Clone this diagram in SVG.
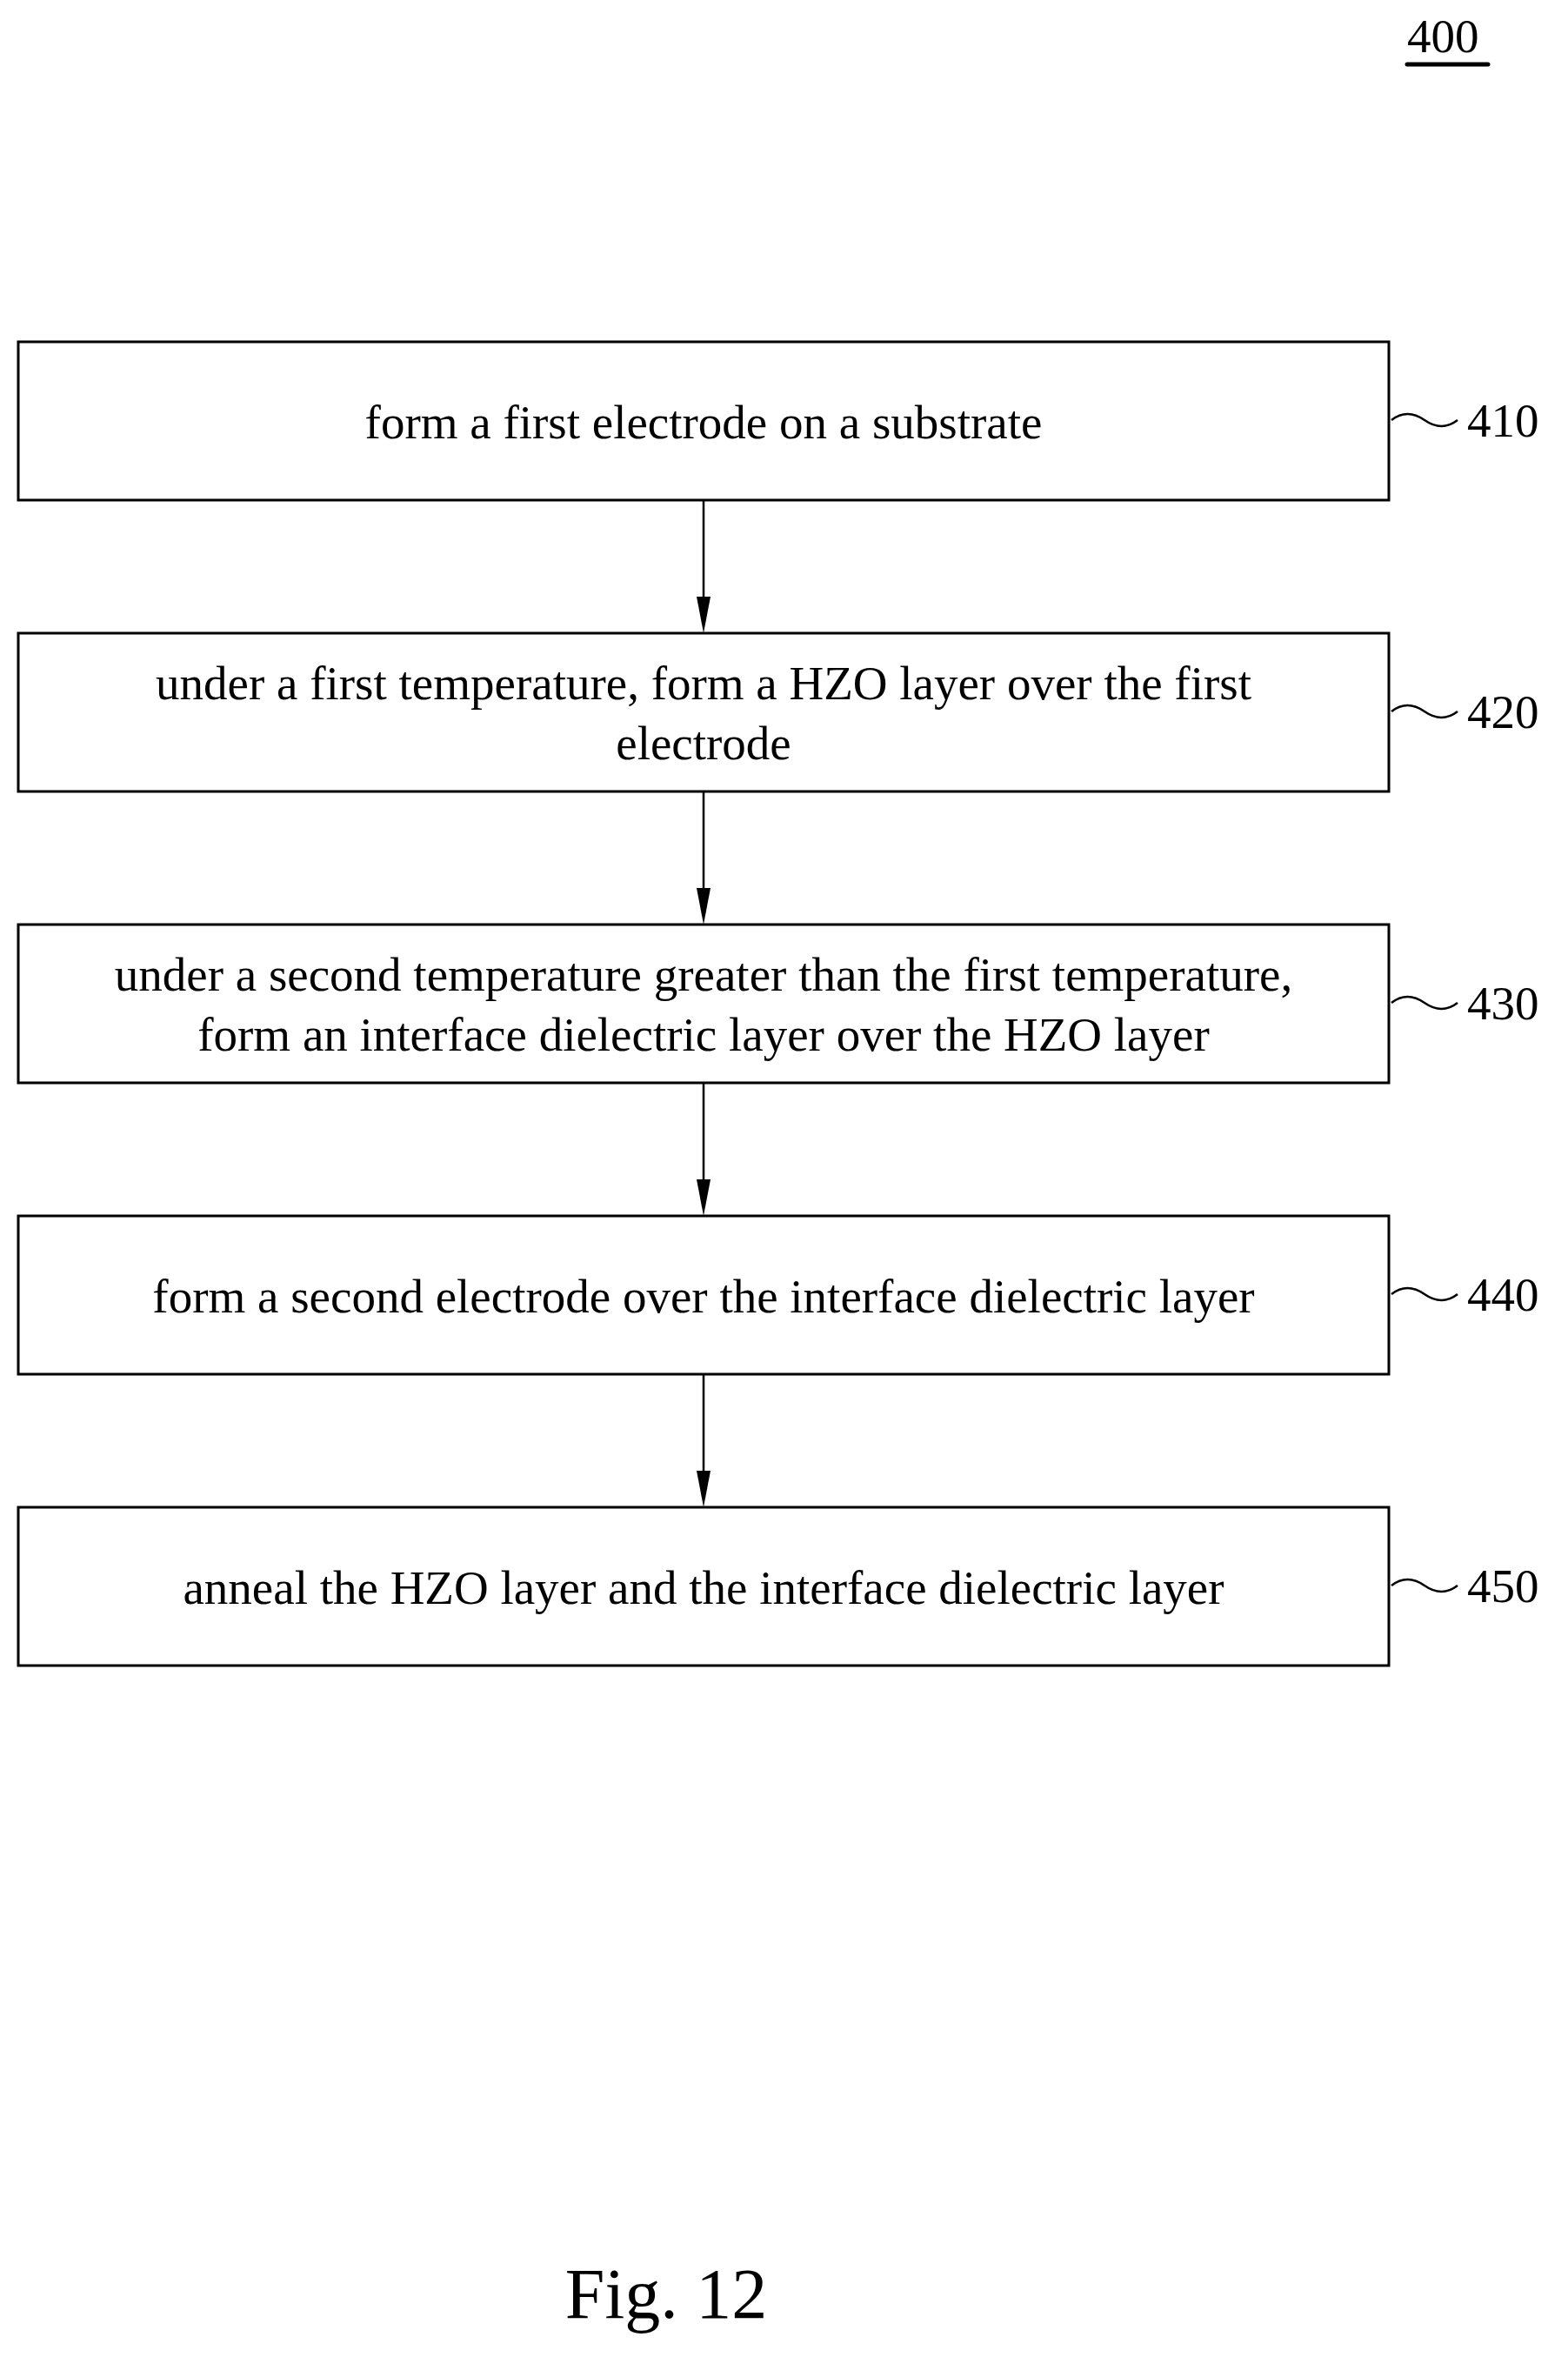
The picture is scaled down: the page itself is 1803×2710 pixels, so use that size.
<svg xmlns="http://www.w3.org/2000/svg" width="1803" height="2710" viewBox="0 0 1803 2710">
<style>
.b{fill:#fff;stroke:#000;stroke-width:3}
.t{font-family:"Liberation Serif",serif;font-size:55px;text-anchor:middle;fill:#000}
.l{font-family:"Liberation Serif",serif;font-size:55px;fill:#000}
.c{stroke:#000;stroke-width:2.5;fill:none}
</style>
<defs><marker id="a" markerWidth="16" markerHeight="44" refX="8" refY="44" orient="auto-start-reverse" markerUnits="userSpaceOnUse" viewBox="0 0 16 44"><path d="M0,0 L16,0 L8,44 Z" fill="#000" transform="rotate(0)"/></marker></defs>
<rect width="1803" height="2710" fill="#fff"/>
<g id="title"><text class="l" x="1618" y="60">400</text><line x1="1618" y1="74" x2="1711" y2="74" stroke="#000" stroke-width="5" stroke-linecap="round"/></g>
<g id="n410"><rect class="b" x="21" y="393" width="1576" height="182"/><text class="t" x="809" y="504">form a first electrode on a substrate</text><path class="c" d="M1600,483 q18,-14 38,0 t38,0"/><text class="l" x="1687" y="502">410</text></g>
<g id="n420"><rect class="b" x="21" y="728" width="1576" height="182"/><text class="t" x="809" y="804">under a first temperature, form a HZO layer over the first</text><text class="t" x="809" y="873">electrode</text><path class="c" d="M1600,818 q18,-14 38,0 t38,0"/><text class="l" x="1687" y="837">420</text></g>
<g id="n430"><rect class="b" x="21" y="1063" width="1576" height="182"/><text class="t" x="809" y="1139">under a second temperature greater than the first temperature,</text><text class="t" x="809" y="1208">form an interface dielectric layer over the HZO layer</text><path class="c" d="M1600,1153 q18,-14 38,0 t38,0"/><text class="l" x="1687" y="1172">430</text></g>
<g id="n440"><rect class="b" x="21" y="1398" width="1576" height="182"/><text class="t" x="809" y="1509">form a second electrode over the interface dielectric layer</text><path class="c" d="M1600,1488 q18,-14 38,0 t38,0"/><text class="l" x="1687" y="1507">440</text></g>
<g id="n450"><rect class="b" x="21" y="1733" width="1576" height="182"/><text class="t" x="809" y="1844">anneal the HZO layer and the interface dielectric layer</text><path class="c" d="M1600,1823 q18,-14 38,0 t38,0"/><text class="l" x="1687" y="1842">450</text></g>
<g id="connectors" fill="#000">
<line class="c" x1="809" y1="575" x2="809" y2="690"/><path d="M801,686 L817,686 L809,728 Z"/>
<line class="c" x1="809" y1="910" x2="809" y2="1025"/><path d="M801,1021 L817,1021 L809,1063 Z"/>
<line class="c" x1="809" y1="1245" x2="809" y2="1360"/><path d="M801,1356 L817,1356 L809,1398 Z"/>
<line class="c" x1="809" y1="1580" x2="809" y2="1695"/><path d="M801,1691 L817,1691 L809,1733 Z"/>
</g>
<text id="fig" x="766" y="2665" font-family="Liberation Serif,serif" font-size="82" text-anchor="middle">Fig. 12</text>
</svg>
